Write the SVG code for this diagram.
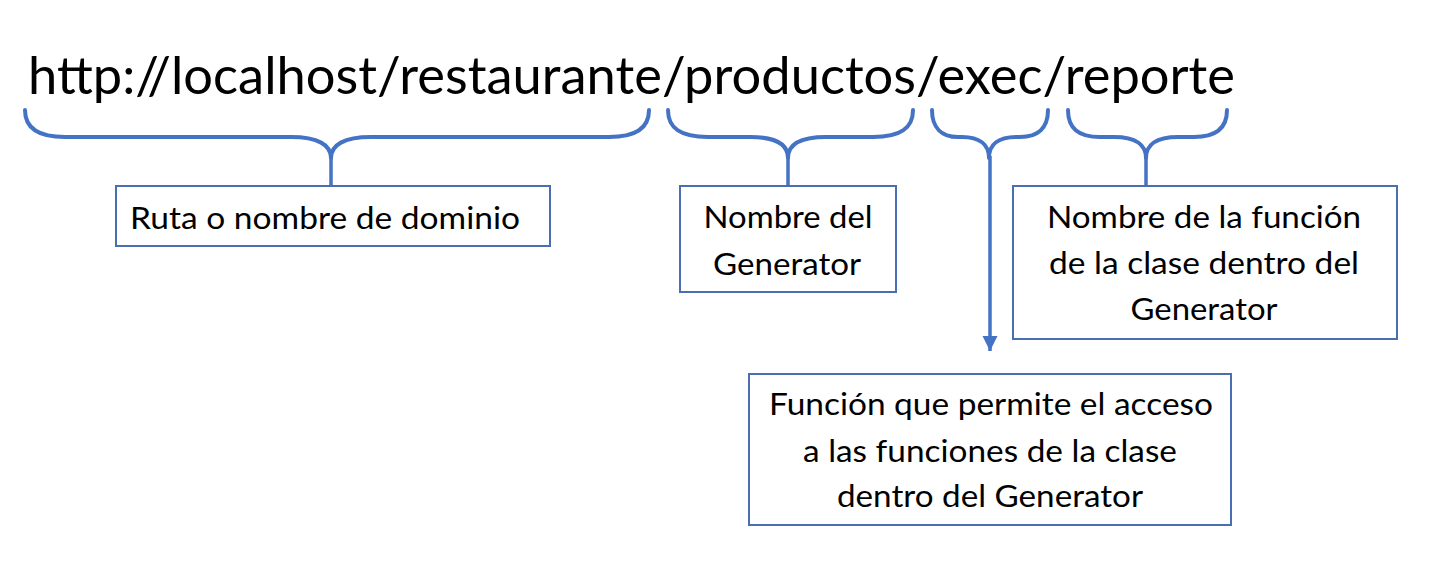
<svg xmlns="http://www.w3.org/2000/svg" width="1444" height="581" viewBox="0 0 1444 581">
  <defs>
    <style>
      .brace { fill: none; stroke: #4472C4; stroke-width: 4; stroke-linecap: round; stroke-linejoin: round; }
      .stem { fill: none; stroke: #4472C4; stroke-width: 3.5; }
      .box { fill: #FFFFFF; stroke: #4A6FB0; stroke-width: 2; }
      .t { font-family: Lato, "Open Sans", "Liberation Sans", sans-serif; fill: #000000; font-size: 30px; }
      .url { font-family: Lato, "Open Sans", "Liberation Sans", sans-serif; fill: #000000; font-size: 53px; }
      .c { text-anchor: middle; }
    </style>
    <marker id="arrow" viewBox="0 0 10 10" refX="10" refY="5" markerWidth="4.4" markerHeight="4.4" markerUnits="strokeWidth" orient="auto">
      <path d="M0,0 L10,5 L0,10 Z" fill="#4472C4"/>
    </marker>
  </defs>
  <rect width="1444" height="581" fill="#FFFFFF"/>

  <g id="url">
    <text class="url" x="28" y="94" textLength="1207" lengthAdjust="spacingAndGlyphs">http://localhost/restaurante/productos/exec/reporte</text>
  </g>

  <g id="connectors">
    <path class="brace" d="M25,110 C25,128 38,137 65,137 L291,137 C318,137 331,145 331,158 C331,145 344,137 371,137 L609,137 C636,137 649,128 649,110"/>
    <line class="stem" x1="331" y1="156" x2="331" y2="186"/>
    <path class="brace" d="M668,110 C668,128 680,137 708,137 L750,137 C776,137 788,145 788,158 C788,145 800,137 826,137 L873,137 C901,137 913,128 913,110"/>
    <line class="stem" x1="788" y1="156" x2="788" y2="186"/>
    <path class="brace" d="M932,110 C932,128 942,137 958,137 L962,137 C980,137 989,145 989,158 C989,145 998,137 1016,137 L1020,137 C1038,137 1048,128 1048,110"/>
    <line class="stem" x1="990" y1="156" x2="990" y2="351" marker-end="url(#arrow)"/>
    <path class="brace" d="M1068,110 C1068,128 1078,137 1100,137 L1114,137 C1136,137 1146,145 1146,158 C1146,145 1156,137 1178,137 L1194,137 C1216,137 1227,128 1227,110"/>
    <line class="stem" x1="1146" y1="156" x2="1146" y2="186"/>
  </g>

  <g id="node-dominio">
    <rect class="box" x="116" y="186" width="434" height="60"/>
    <text class="t" x="130" y="229" textLength="390" lengthAdjust="spacingAndGlyphs">Ruta o nombre de dominio</text>
  </g>

  <g id="node-generator">
    <rect class="box" x="680" y="186" width="216" height="106"/>
    <text class="t c" x="788" y="228" textLength="169" lengthAdjust="spacingAndGlyphs">Nombre del</text>
    <text class="t c" x="787" y="275" textLength="148" lengthAdjust="spacingAndGlyphs">Generator</text>
  </g>

  <g id="node-funcion">
    <rect class="box" x="1013" y="186" width="384" height="153"/>
    <text class="t c" x="1204" y="228" textLength="314" lengthAdjust="spacingAndGlyphs">Nombre de la función</text>
    <text class="t c" x="1204" y="274" textLength="310" lengthAdjust="spacingAndGlyphs">de la clase dentro del</text>
    <text class="t c" x="1204" y="320" textLength="147" lengthAdjust="spacingAndGlyphs">Generator</text>
  </g>

  <g id="node-exec">
    <rect class="box" x="749" y="374" width="482" height="151"/>
    <text class="t c" x="991" y="415" textLength="444" lengthAdjust="spacingAndGlyphs">Función que permite el acceso</text>
    <text class="t c" x="990" y="462" textLength="374" lengthAdjust="spacingAndGlyphs">a las funciones de la clase</text>
    <text class="t c" x="990" y="507" textLength="306" lengthAdjust="spacingAndGlyphs">dentro del Generator</text>
  </g>
</svg>
